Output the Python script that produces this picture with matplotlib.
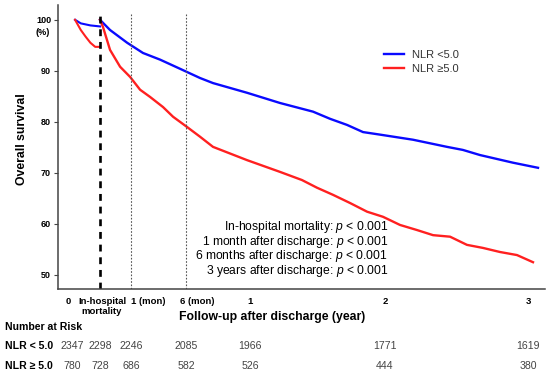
import matplotlib
matplotlib.use("Agg")
import matplotlib.pyplot as plt
import numpy as np
from matplotlib import font_manager
from matplotlib.transforms import blended_transform_factory, ScaledTranslation

# ---- data (survival %, time in years after discharge; in-hospital phase < 0) ----
hosp_t = [-0.078, -0.06, -0.045, -0.03, -0.015, 0.0]
hosp_low = [100.0, 99.3, 99.1, 98.9, 98.8, 98.7]
hosp_high = [100.0, 98.0, 96.7, 95.5, 94.7, 94.7]

post_t_low = [0.0, 0.027, 0.073, 0.174, 0.303, 0.455, 0.609, 0.711, 0.977, 1.222,
              1.467, 1.593, 1.719, 1.837, 1.963, 2.196, 2.434, 2.545, 2.664, 2.895, 3.07]
post_low = [100.0, 98.0, 95.5, 93.5, 92.2, 90.4, 88.6, 87.6, 85.7, 83.7,
            82.0, 80.6, 79.4, 78.0, 77.5, 76.5, 75.1, 74.5, 73.5, 72.0, 71.0]

post_t_high = [0.0, 0.008, 0.027, 0.054, 0.081, 0.152, 0.227, 0.326, 0.402, 0.508,
               0.609, 0.711, 0.977, 1.222, 1.385, 1.496, 1.615, 1.741, 1.867, 1.985,
               2.105, 2.224, 2.336, 2.455, 2.573, 2.685, 2.804, 2.923, 3.035]
post_high = [100.0, 98.6, 94.1, 90.8, 88.8, 86.3, 84.9, 82.9, 81.0, 79.0,
             77.1, 75.1, 72.5, 70.2, 68.6, 67.1, 65.7, 64.1, 62.4, 61.4,
             59.8, 58.8, 57.8, 57.5, 55.9, 55.3, 54.5, 53.9, 52.5]

tick_t = [-0.1, 0.0, 1 / 12, 0.5, 1.0, 2.0, 3.0]
tick_labels = ["0", "In-hospital\nmortality", "1 (mon)", "6 (mon)", "1", "2", "3"]
risk_t = [-0.088, 0.0, 1 / 12, 0.5, 1.0, 2.0, 3.0]
risk_low = [2347, 2298, 2246, 2085, 1966, 1771, 1619]
risk_high = [780, 728, 686, 582, 526, 444, 380]

p_lines = ["In-hospital mortality:", "1 month after discharge:",
           "6 months after discharge:", "3 years after discharge:"]

# ---- fonts ----
names = {f.name for f in font_manager.fontManager.ttflist}
narrow = "Liberation Sans Narrow" if "Liberation Sans Narrow" in names else "Liberation Sans"
plt.rcParams["font.family"] = ["Liberation Sans", "DejaVu Sans"]
plt.rcParams["mathtext.fontset"] = "custom"
plt.rcParams["mathtext.rm"] = "Liberation Sans"
plt.rcParams["mathtext.it"] = "Liberation Sans:italic"

# piecewise x scale (non-linear follow-up axis)
T_anc = np.array([-0.2, -0.1, 0.0, 1 / 12, 0.5, 1.0, 2.0, 3.0, 3.5])
U_anc = np.array([36, 68, 100, 131, 186, 250, 385, 528, 599.5])


def fwd(t):
    return np.interp(t, T_anc, U_anc)


def inv(u):
    return np.interp(u, U_anc, T_anc)


W, H = 550, 374
fig = plt.figure(figsize=(5.5, 3.74), dpi=100)
ax = fig.add_axes([58 / W, 85 / H, 487 / W, 284 / H])
ax.set_xscale("function", functions=(fwd, inv))
ax.set_xlim(inv(58), inv(545))
ax.set_ylim(47.25, 102.9)

blue = "#0a0aff"
red = "#ff2020"
ax.plot(hosp_t, hosp_low, color=blue, lw=1.5)
ax.plot(hosp_t, hosp_high, color=red, lw=1.5)
l1, = ax.plot(post_t_low, post_low, color=blue, lw=1.7, label="NLR <5.0")
l2, = ax.plot(post_t_high, post_high, color=red, lw=1.7, label="NLR \u22655.0")

ax.vlines(0, 47.25, 101.4, color="black", lw=1.9, linestyles=[(0, (2.6, 2.2))])
ax.vlines([1 / 12, 0.5], 47.25, 101.4, color="#555555", lw=0.8, linestyles=[(0, (1.5, 1.5))])

for s in ["top", "right"]:
    ax.spines[s].set_visible(False)
for s in ["left", "bottom"]:
    ax.spines[s].set_color("#444444")
    ax.spines[s].set_linewidth(1.1)

ax.set_yticks([50, 60, 70, 80, 90, 100])
ax.set_yticklabels(["50", "60", "70", "80", "90", "100"], fontfamily=narrow,
                   fontweight="bold", fontsize=6.5)
ax.tick_params(axis="y", length=3, width=0.8, color="#444444", pad=2)
ax.annotate("(%)", xy=(0, 97.5), xycoords=ax.get_yaxis_transform(), xytext=(-6, 0),
            textcoords="offset points", ha="right", va="center", fontfamily=narrow,
            fontweight="bold", fontsize=6.5)

ax.set_xticks(tick_t)
ax.set_xticklabels(tick_labels, fontfamily=narrow, fontweight="bold", fontsize=6.8,
                   linespacing=1.1)
ax.tick_params(axis="x", length=0, pad=6)
shifts = [0, 2, 17, 11, 0, 0, 0]
for lab, dx in zip(ax.get_xticklabels(), shifts):
    if dx:
        lab.set_transform(lab.get_transform() + ScaledTranslation(dx / 100, 0, fig.dpi_scale_trans))

fig.text(22 / W, 1 - 139 / H, "Overall survival", rotation=90, ha="center",
         va="center", fontsize=8.8, fontweight="bold")
fig.text(272 / W, 1 - 317 / H, "Follow-up after discharge (year)", ha="center",
         va="center", fontsize=8.8, fontweight="bold")

ax.legend(handles=[l1, l2], loc="upper left", bbox_to_anchor=(384 / W, 1 - 50 / H),
          bbox_transform=fig.transFigure, frameon=False, fontsize=8,
          handlelength=1.8, handletextpad=0.7, labelspacing=0.35, borderpad=0,
          borderaxespad=0, labelcolor="#333333")

for i, s in enumerate(p_lines):
    fig.text(388 / W, 1 - (227 + 14.7 * i) / H, s + r" $\mathit{p}$ < 0.001",
             ha="right", va="center", fontsize=8.7)

# number at risk table
tr = blended_transform_factory(ax.transData, fig.transFigure)
fig.text(5 / W, 1 - 327 / H, "Number at Risk", fontsize=7.6, fontweight="bold", va="center")
fig.text(5 / W, 1 - 346 / H, "NLR < 5.0", fontsize=7.6, fontweight="bold", va="center")
fig.text(5 / W, 1 - 366 / H, "NLR \u2265 5.0", fontsize=7.6, fontweight="bold", va="center")
for t, a, b in zip(risk_t, risk_low, risk_high):
    ax.text(t, 1 - 346 / H, str(a), transform=tr, ha="center", va="center",
            fontsize=7.6, color="#444444", clip_on=False)
    ax.text(t, 1 - 366 / H, str(b), transform=tr, ha="center", va="center",
            fontsize=7.6, color="#444444", clip_on=False)

fig.savefig("out.png", dpi=100)
